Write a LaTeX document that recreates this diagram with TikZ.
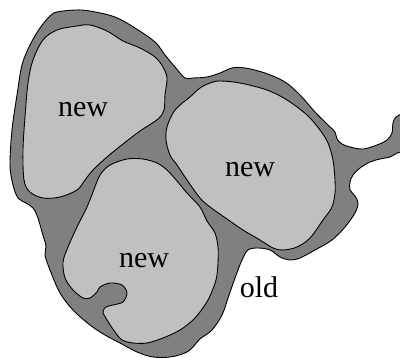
\documentclass[tikz,border=0pt]{standalone}
\usepackage{fontspec}
\setmainfont{Liberation Serif}
\definecolor{olddark}{RGB}{128,128,128}
\definecolor{newlight}{RGB}{192,192,192}
\begin{document}
\begin{tikzpicture}[x=1pt,y=-1pt,
  oldregion/.style={fill=olddark,draw=black,line width=0.9pt,line join=round},
  newregion/.style={fill=newlight,draw=black,line width=0.9pt,line join=round},
  lbl/.style={font=\fontsize{30}{36}\selectfont,anchor=base,inner sep=0pt}]
\clip (0,0) rectangle (400,358);
\draw[oldregion] plot[smooth cycle,tension=0.55] coordinates {
(57,12) (75,10) (90,11) (115,17) (135,28) (155,42) (165,55) (175,67) (185,78)
(193,78) (207,77) (220,73) (232,68) (245,68) (265,73) (285,82) (300,95)
(315,112) (328,125) (335,132) (337,139) (342,144) (350,147) (363,149) (377,145)
(387,140) (392,133) (393,123) (396,117) (403,115) (405,130) (403,150) (397,153)
(390,157) (380,159) (370,162) (360,168) (353,175) (350,182) (350,190) (355,196)
(358,203) (355,213) (345,227) (332,240) (315,250) (300,258) (290,260) (280,257)
(270,250) (258,248) (248,250) (242,260) (235,278) (228,298) (222,315) (212,330)
(200,339) (192,348) (185,353) (170,357) (153,357) (137,352) (120,343) (105,335)
(90,325) (73,310) (60,293) (50,270) (45,255) (46,246) (42,232) (38,218) (33,208)
(26,203) (18,198) (13,185) (10,165) (12,130) (17,95) (22,65) (30,45) (40,28) (50,16)};
\draw[newregion] plot[smooth cycle,tension=0.55] coordinates {
(77,26) (90,25) (107,31) (123,41) (140,48) (155,57) (163,67) (167,78) (165,95)
(164,110) (158,119) (140,131) (123,144) (107,157) (93,170) (85,180) (77,190)
(60,197) (43,198) (30,192) (24,180) (23,150) (25,117) (28,83) (33,60) (43,40) (57,30)};
\draw[newregion] plot[smooth cycle,tension=0.55] coordinates {
(200,88) (210,83) (220,81) (240,83) (267,90) (287,100) (307,115) (320,130)
(328,143) (333,160) (335,180) (335,193) (332,207) (323,220) (310,238) (297,247)
(283,250) (273,248) (260,240) (243,230) (227,219) (210,207) (200,198) (187,180)
(177,165) (170,155) (166,140) (167,127) (173,113) (180,105) (190,97)};
\draw[newregion] plot[smooth cycle,tension=0.5] coordinates {
(110,165) (127,159) (143,159) (157,163) (167,170) (177,181) (187,193) (200,207)
(207,221) (215,233) (218,247) (218,263) (216,280) (208,300) (195,318) (180,330)
(163,338) (147,343) (133,343) (122,340) (115,332) (107,320) (103,312) (106,307)
(113,305) (123,302) (127,293) (122,285) (110,283) (100,287) (97,292) (90,298)
(83,298) (73,290) (65,278) (63,262) (68,247) (77,227) (87,207) (93,192) (100,175)};
\node[lbl] (newA) at (83,117) {new};
\node[lbl] (newB) at (250,177) {new};
\node[lbl] (newC) at (144,268) {new};
\node[lbl] (oldlbl) at (259,298) {old};
\end{tikzpicture}
\end{document}
